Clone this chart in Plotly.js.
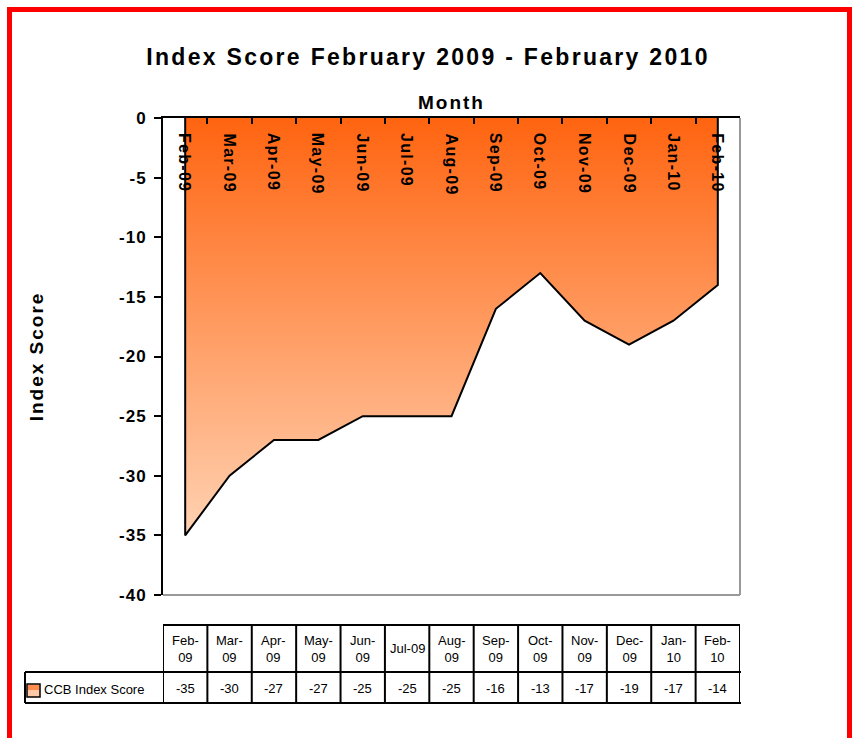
<!DOCTYPE html>
<html><head><meta charset="utf-8">
<script src="https://cdn.plot.ly/plotly-3.0.1.min.js"></script>
<style>
html,body{margin:0;padding:0;background:#fff;}
#chart{width:856px;height:738px;}
#frame{position:absolute;left:7px;top:7px;width:845px;height:800px;border:5px solid #ff0000;box-sizing:border-box;pointer-events:none;z-index:10;}
.gtitle{letter-spacing:2.3px;}
.xtitle,.ytitle{letter-spacing:2px;}
.ytick text{letter-spacing:1px;}
</style></head><body>
<div id="chart"></div><div id="frame"></div>
<script>
const months = ['Feb-09','Mar-09','Apr-09','May-09','Jun-09','Jul-09','Aug-09','Sep-09','Oct-09','Nov-09','Dec-09','Jan-10','Feb-10'];
const tableHeaders = ['Feb-<br>09','Mar-<br>09','Apr-<br>09','May-<br>09','Jun-<br>09','Jul-09','Aug-<br>09','Sep-<br>09','Oct-<br>09','Nov-<br>09','Dec-<br>09','Jan-<br>10','Feb-<br>10'];
const scores = [-35,-30,-27,-27,-25,-25,-25,-16,-13,-17,-19,-17,-14];
const yTicks = [0,-5,-10,-15,-20,-25,-30,-35,-40];
const seriesName = 'CCB Index Score';

const FONT = 'Liberation Sans, Arial, sans-serif';
const PLOT_BOTTOM = 595, PLOT_H = 477, PLOT_LEFT = 163, PLOT_W = 577;
const py = p => (PLOT_BOTTOM - p) / PLOT_H;
const px = p => (p - PLOT_LEFT) / PLOT_W;

const n = months.length;
const xs = [months[0], ...months, months[n-1]];
const ys = [0, ...scores, 0];

// letter spacing for the rotated month labels (annotations 0..n-1)
const css = months.map((m, i) => '.annotation[data-index="' + i + '"] text').join(',') + '{letter-spacing:1.3px;}';
const st = document.createElement('style'); st.textContent = css; document.head.appendChild(st);

const trace = {
  type: 'scatter', mode: 'lines', x: xs, y: ys, name: seriesName,
  line: {color: '#000000', width: 2},
  fill: 'tozeroy',
  fillgradient: {type: 'vertical', start: -35, stop: 0,
    colorscale: [[0, '#FFD2B2'], [1, '#FF6410']]},
  hoverinfo: 'skip', showlegend: false
};

const shapes = [
  {type:'line', xref:'paper', yref:'paper', x0:1, x1:1, y0:0, y1:1, line:{color:'#999999', width:2}},
  {type:'line', xref:'paper', yref:'paper', x0:0, x1:1, y0:0, y1:0, line:{color:'#999999', width:2}}
];
const annotations = [];
months.forEach((m, i) => {
  annotations.push({xref:'x', yref:'paper', x:i, y:1, yshift:-17, text:'<b>'+m+'</b>', textangle:90,
    showarrow:false, font:{family:FONT, size:16, color:'#000'}, xanchor:'center', yanchor:'top'});
});
const T_TOP = py(625), T_MID = py(672), T_BOT = py(703);
const bl = {color:'#000000', width:2};
shapes.push({type:'line', xref:'x', yref:'paper', x0:-0.5, x1:n-0.5, y0:T_TOP, y1:T_TOP, line:bl});
shapes.push({type:'line', xref:'paper', yref:'paper', x0:px(25), x1:px(741), y0:T_MID, y1:T_MID, line:bl});
shapes.push({type:'line', xref:'paper', yref:'paper', x0:px(25), x1:px(741), y0:T_BOT, y1:T_BOT, line:bl});
shapes.push({type:'line', xref:'paper', yref:'paper', x0:px(25), x1:px(25), y0:T_MID, y1:T_BOT, line:bl});
for (let i = 0; i <= n; i++) {
  shapes.push({type:'line', xref:'x', yref:'paper', x0:i-0.5, x1:i-0.5, y0:T_TOP, y1:T_BOT, line:bl});
}
months.forEach((m, i) => {
  annotations.push({xref:'x', yref:'paper', x:i, y:py(648.5), text:tableHeaders[i], showarrow:false,
    font:{family:FONT, size:13, color:'#000'}, xanchor:'center', yanchor:'middle'});
  annotations.push({xref:'x', yref:'paper', x:i, y:py(688), text:String(scores[i]), showarrow:false,
    font:{family:FONT, size:13, color:'#000'}, xanchor:'center', yanchor:'middle'});
});
shapes.push({type:'rect', xref:'paper', yref:'paper', x0:px(27), x1:px(40), y0:py(697), y1:py(684), fillcolor:'#FFC9A6', line:{color:'#000', width:1.5}});
shapes.push({type:'rect', xref:'paper', yref:'paper', x0:px(28), x1:px(39), y0:py(690), y1:py(685), fillcolor:'#FF8A4E', line:{width:0}});
annotations.push({xref:'paper', yref:'paper', x:px(42), y:py(689), text:seriesName, showarrow:false,
  font:{family:FONT, size:13, color:'#000'}, xanchor:'left', yanchor:'middle'});

const layout = {
  width: 856, height: 738,
  margin: {l: PLOT_LEFT, r: 856 - PLOT_LEFT - PLOT_W, t: 118, b: 738 - PLOT_BOTTOM},
  paper_bgcolor: '#ffffff', plot_bgcolor: '#ffffff',
  font: {family: FONT, color: '#000'},
  title: {text: '<b>Index Score February 2009 - February 2010</b>', font: {family: FONT, size: 23, color: '#000'},
    x: 0.5, xanchor: 'center', y: 1 - 57/738, yanchor: 'middle'},
  xaxis: {
    type: 'category', side: 'top', range: [-0.5, n - 0.5], fixedrange: true,
    title: {text: '<b>Month</b>', font: {family: FONT, size: 19, color: '#000'}, standoff: 1},
    showline: true, linecolor: '#000', linewidth: 2,
    ticks: 'inside', ticklen: 6, tickwidth: 2, tickcolor: '#000', tickson: 'boundaries',
    showticklabels: false,
    showgrid: false, zeroline: false, automargin: false
  },
  yaxis: {
    range: [-40, 0], fixedrange: true,
    tickmode: 'array', tickvals: yTicks, ticktext: yTicks.map(String),
    title: {text: '<b>Index Score</b>', font: {family: FONT, size: 19, color: '#000'}, standoff: 70},
    showline: true, linecolor: '#000', linewidth: 2,
    ticks: 'outside', ticklen: 7, tickwidth: 2, tickcolor: '#000', ticklabelstandoff: 4,
    tickfont: {family: FONT, size: 17, color: '#000', weight: 'bold'},
    showgrid: false, zeroline: false, automargin: false
  },
  shapes, annotations, showlegend: false
};

Plotly.newPlot('chart', [trace], layout, {displayModeBar: false, staticPlot: true});
</script></body></html>
